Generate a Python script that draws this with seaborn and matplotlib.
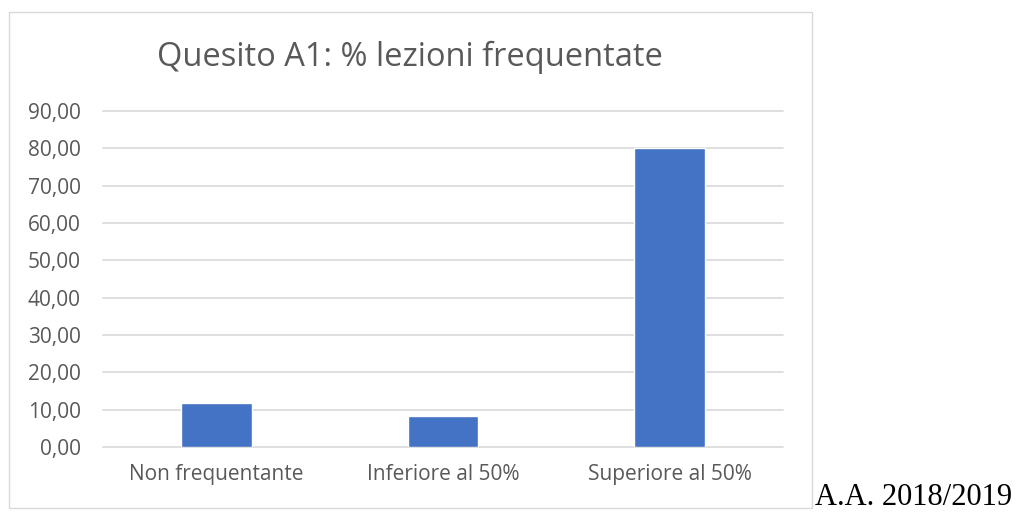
import matplotlib
matplotlib.use("Agg")
import matplotlib.pyplot as plt
import seaborn as sns
from matplotlib.ticker import FuncFormatter
from matplotlib.patches import Rectangle

# dati
categorie = ["Non frequentante", "Inferiore al 50%", "Superiore al 50%"]
percentuali = [11.8, 8.2, 80.0]
titolo = "Quesito A1: % lezioni frequentate"
anno = "A.A. 2018/2019"

sns.set_style("white")
plt.rcParams["font.family"] = ["Open Sans", "DejaVu Sans"]

fig = plt.figure(figsize=(10.23, 5.13), dpi=100)
ax = fig.add_axes([103 / 1023, 1 - 447 / 513, 680 / 1023, 336 / 513])

sns.barplot(x=categorie, y=percentuali, color="#4472C4", saturation=1,
            width=0.313, ax=ax)

ax.set_ylim(0, 90)
ax.set_yticks(range(0, 91, 10))
ax.yaxis.set_major_formatter(FuncFormatter(lambda v, p: f"{v:.2f}".replace(".", ",")))
ax.grid(axis="y", color="#D9D9D9", linewidth=1.2)
ax.set_axisbelow(True)
for gl in ax.get_ygridlines():
    gl.set_clip_on(False)
for s in ax.spines.values():
    s.set_visible(False)
ax.tick_params(axis="both", length=0, labelsize=15, labelcolor="#595959")
ax.tick_params(axis="y", pad=16)
ax.tick_params(axis="x", pad=12)
ax.set_xlabel("")
ax.set_ylabel("")

# cornice del grafico
fig.add_artist(Rectangle((9 / 1023, 1 - 508 / 513), 803 / 1023, 496 / 513,
                         transform=fig.transFigure, fill=False,
                         edgecolor="#D9D9D9", linewidth=1))

fig.text(410 / 1023, 1 - 57 / 513, titolo, ha="center", va="center",
         fontsize=23.5, color="#595959")
fig.text(815 / 1023, 1 - 505 / 513, anno, ha="left", va="baseline",
         fontsize=22, family="Liberation Serif", color="black")

fig.savefig("out.png", dpi=100)
